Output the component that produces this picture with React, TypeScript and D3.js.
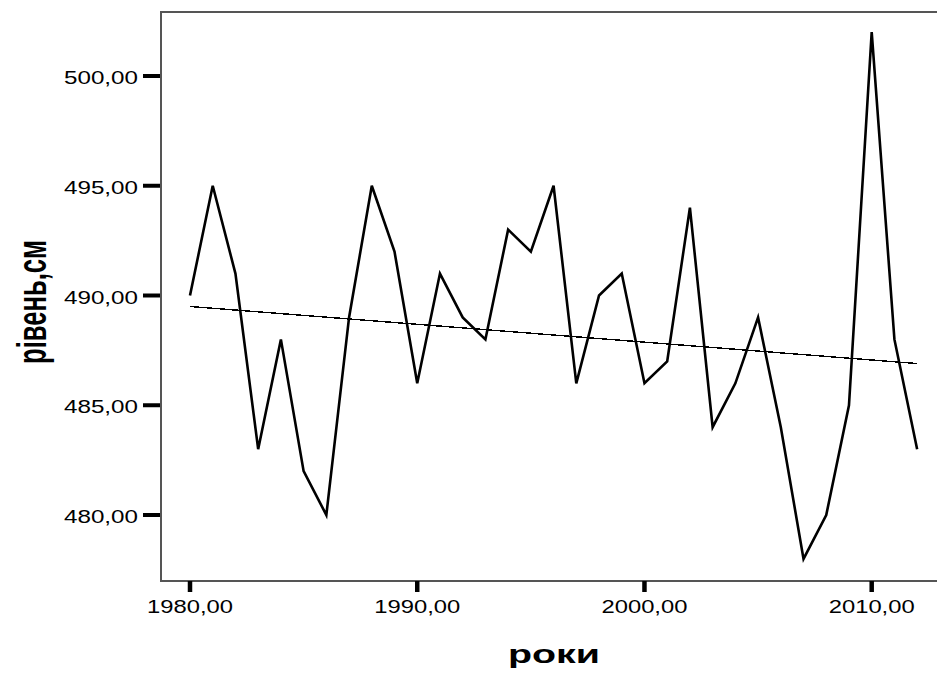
import React, { useEffect, useRef } from 'react';
import * as d3 from 'd3';

const years = [
  1980, 1981, 1982, 1983, 1984, 1985, 1986, 1987, 1988, 1989, 1990,
  1991, 1992, 1993, 1994, 1995, 1996, 1997, 1998, 1999, 2000,
  2001, 2002, 2003, 2004, 2005, 2006, 2007, 2008, 2009, 2010, 2011, 2012,
];
const levels = [
  490, 495, 491, 483, 488, 482, 480, 489, 495, 492, 486,
  491, 489, 488, 493, 492, 495, 486, 490, 491, 486,
  487, 494, 484, 486, 489, 484, 478, 480, 485, 502, 488, 483,
];
// fitted line (start / end)
const trendYears = [1980, 2012];
const trendLevels = [489.5, 486.9];

const yTicks = [480, 485, 490, 495, 500];
const xTicks = [1980, 1990, 2000, 2010];

const W = 937;
const H = 674;

const fmt = (v: number) => d3.format('.2f')(v).replace('.', ',');

function drawChart(node: SVGSVGElement) {
  const svg = d3.select(node);
  svg.selectAll('*').remove();

  const x = d3.scaleLinear().domain([1980, 2010]).range([190, 871.7]);
  const y = d3.scaleLinear().domain([480, 500]).range([515, 76]);

  const frame = { left: 161, top: 12, bottom: 581, right: 945 };

  // frame: top, left, bottom (right side runs off the picture)
  svg.append('path')
    .attr('d', `M${frame.right},${frame.top}H${frame.left}V${frame.bottom}H${frame.right}`)
    .attr('fill', 'none')
    .attr('stroke', '#555')
    .attr('stroke-width', 2);

  const data = years.map((yr, i) => ({ yr, v: levels[i] }));
  const line = d3.line<{ yr: number; v: number }>().x((d) => x(d.yr)).y((d) => y(d.v));

  const trend = trendYears.map((yr, i) => ({ yr, v: trendLevels[i] }));
  svg.append('path')
    .datum(trend)
    .attr('d', line)
    .attr('fill', 'none')
    .attr('stroke', '#000')
    .attr('stroke-width', 1.4)
    .attr('shape-rendering', 'crispEdges');

  svg.append('path')
    .datum(data)
    .attr('d', line)
    .attr('fill', 'none')
    .attr('stroke', '#000')
    .attr('stroke-width', 2.6)
    .attr('stroke-linejoin', 'miter');

  // y axis ticks + labels
  const yg = svg.append('g');
  yg.selectAll('line')
    .data(yTicks)
    .join('line')
    .attr('x1', 143)
    .attr('x2', frame.left - 1)
    .attr('y1', (d) => y(d))
    .attr('y2', (d) => y(d))
    .attr('stroke', '#000')
    .attr('stroke-width', 4);
  yg.selectAll('text')
    .data(yTicks)
    .join('text')
    .attr('x', 138)
    .attr('y', (d) => y(d) + 8)
    .attr('text-anchor', 'end')
    .attr('font-family', 'Liberation Sans, Arial, sans-serif')
    .attr('font-size', 18.5)
    .attr('textLength', 74)
    .attr('lengthAdjust', 'spacingAndGlyphs')
    .attr('fill', '#000')
    .text((d) => fmt(d));

  // x axis ticks + labels
  const xg = svg.append('g');
  xg.selectAll('line')
    .data(xTicks)
    .join('line')
    .attr('x1', (d) => x(d))
    .attr('x2', (d) => x(d))
    .attr('y1', frame.bottom)
    .attr('y2', 592)
    .attr('stroke', '#000')
    .attr('stroke-width', 4.5);
  xg.selectAll('text')
    .data(xTicks)
    .join('text')
    .attr('x', (d) => x(d) - 43)
    .attr('y', 612.5)
    .attr('font-family', 'Liberation Sans, Arial, sans-serif')
    .attr('font-size', 18.5)
    .attr('textLength', 86)
    .attr('lengthAdjust', 'spacingAndGlyphs')
    .attr('fill', '#000')
    .text((d) => fmt(d));

  // axis titles
  svg.append('text')
    .attr('x', 508)
    .attr('y', 663)
    .attr('font-family', 'Liberation Sans, Arial, sans-serif')
    .attr('font-weight', 'bold')
    .attr('font-size', 26)
    .attr('textLength', 92)
    .attr('lengthAdjust', 'spacingAndGlyphs')
    .attr('fill', '#000')
    .text('роки');

  svg.append('text')
    .attr('transform', 'translate(46,302) rotate(-90)')
    .attr('text-anchor', 'middle')
    .attr('font-family', 'Liberation Sans, Arial, sans-serif')
    .attr('font-weight', 'bold')
    .attr('font-size', 40)
    .attr('textLength', 124)
    .attr('lengthAdjust', 'spacingAndGlyphs')
    .attr('fill', '#000')
    .text('рівень,см');
}

export default function App() {
  const ref = useRef<SVGSVGElement>(null);

  useEffect(() => {
    if (ref.current) drawChart(ref.current);
  }, []);

  return (
    <svg
      ref={ref}
      width={W}
      height={H}
      style={{ position: 'absolute', left: 0, top: 0, background: '#fff' }}
    />
  );
}
